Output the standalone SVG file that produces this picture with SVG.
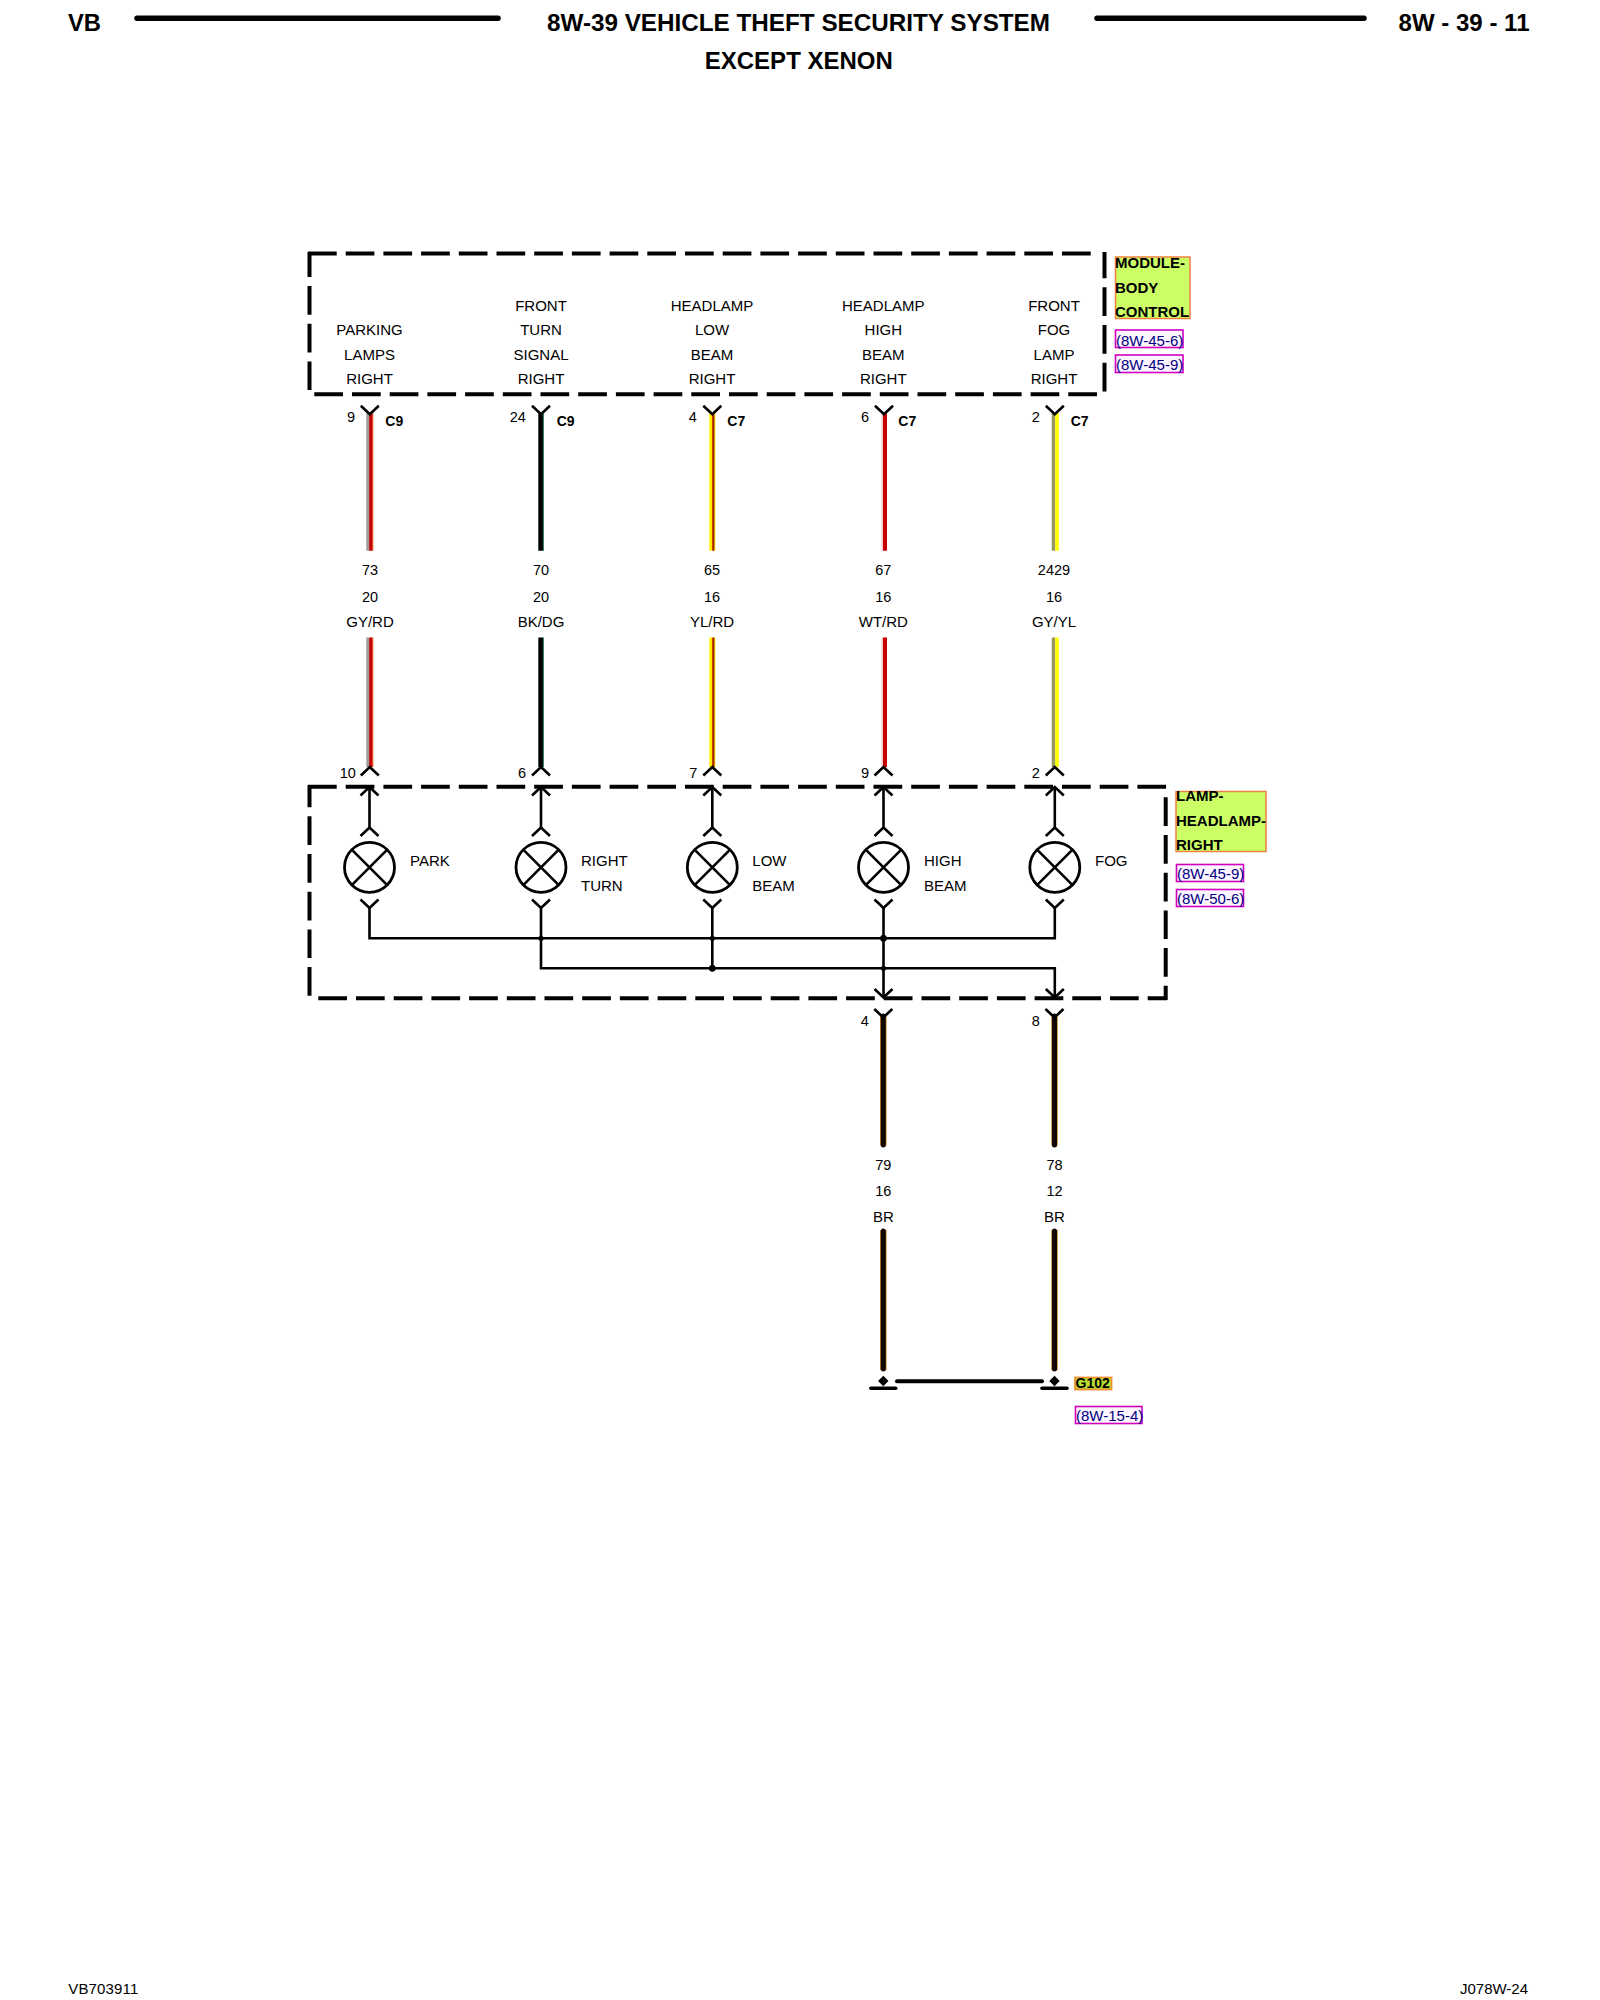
<svg xmlns="http://www.w3.org/2000/svg" width="1600" height="2000" viewBox="0 0 1600 2000">
<style>
text{font-family:"Liberation Sans",Arial,sans-serif;fill:#000;transform:translateY(-0.5px)}
.h{font-size:24px;font-weight:bold}
.t{font-size:15px;text-anchor:middle}
.l{font-size:15px}
.n{font-size:14.5px;text-anchor:middle}
.b{font-size:14px;font-weight:bold}
.m{font-size:15px;font-weight:bold}
.r{font-size:15px;fill:#000080}
.f{font-size:15px}
.d{fill:none;stroke:#000;stroke-width:4;stroke-dasharray:28.7 9}
.s{fill:none;stroke:#000;stroke-width:2.6}
.c{fill:none;stroke:#000;stroke-width:2.6}
.g{fill:#ccff66;stroke:#f08040;stroke-width:1.5}
.x{fill:#fdf5ff;stroke:#d000c0;stroke-width:1.6}
.w{fill:none;stroke-linecap:butt}
.th{stroke:#000;stroke-width:5.5;stroke-linecap:round}
</style>
<defs>
<g id="yc"><path class="s" d="M-9-8.5 0 0 9-8.5"/></g>
<g id="ac"><path class="s" d="M-9 8.5 0 0 9 8.5"/></g>
<g id="lamp"><circle r="25" fill="none" stroke="#000" stroke-width="2.8"/><path class="s" d="M-17-17 17 17M17-17-17 17"/></g>
<g id="gnd"><path d="M0-5.2 5.2 0 0 5.2-5.2 0Z" fill="#000"/><path d="M-12.5 7.2H12.5" stroke="#000" stroke-width="3.5" stroke-linecap="round"/></g>
</defs>
<rect width="1600" height="2000" fill="#fff"/>

<g id="header">
<text class="h" x="68" y="31" textLength="33" lengthAdjust="spacingAndGlyphs">VB</text>
<line class="th" x1="137" y1="18.3" x2="498" y2="18.3"/>
<text class="h" x="547" y="31" textLength="503" lengthAdjust="spacingAndGlyphs">8W-39 VEHICLE THEFT SECURITY SYSTEM</text>
<text class="h" x="798.8" y="69" text-anchor="middle">EXCEPT XENON</text>
<line class="th" x1="1097" y1="18.3" x2="1364" y2="18.3"/>
<text class="h" x="1398.5" y="31" textLength="131" lengthAdjust="spacing">8W - 39 - 11</text>
</g>

<g id="module-body-control">
<path class="d" d="M308 253.5H1092"/>
<path class="d" stroke-dashoffset="3.7" d="M309.5 252V390"/>
<path class="d" d="M314.3 394.3H1098"/>
<path class="d" stroke-dashoffset="2.4" d="M1104.5 252V392"/>
<g>
<text class="t" x="369.5" y="335.3">PARKING</text><text class="t" x="369.5" y="360">LAMPS</text><text class="t" x="369.5" y="384">RIGHT</text>
<text class="t" x="541" y="311">FRONT</text><text class="t" x="541" y="335.3">TURN</text><text class="t" x="541" y="360">SIGNAL</text><text class="t" x="541" y="384">RIGHT</text>
<text class="t" x="712" y="311">HEADLAMP</text><text class="t" x="712" y="335.3">LOW</text><text class="t" x="712" y="360">BEAM</text><text class="t" x="712" y="384">RIGHT</text>
<text class="t" x="883.3" y="311">HEADLAMP</text><text class="t" x="883.3" y="335.3">HIGH</text><text class="t" x="883.3" y="360">BEAM</text><text class="t" x="883.3" y="384">RIGHT</text>
<text class="t" x="1054" y="311">FRONT</text><text class="t" x="1054" y="335.3">FOG</text><text class="t" x="1054" y="360">LAMP</text><text class="t" x="1054" y="384">RIGHT</text>
</g>
<rect class="g" x="1115.5" y="257" width="74.5" height="61.5"/>
<text class="m" x="1115" y="268.3">MODULE-</text><text class="m" x="1115" y="293.3">BODY</text><text class="m" x="1115" y="317.3">CONTROL</text>
<rect class="x" x="1115.5" y="330" width="67.5" height="17.5"/><text class="r" x="1116" y="346">(8W-45-6)</text>
<rect class="x" x="1115.5" y="355" width="67.5" height="17.5"/><text class="r" x="1116" y="370.3">(8W-45-9)</text>
</g>

<g id="connectors">
<g id="wire-73" class="w">
<path stroke="#a09a9a" stroke-width="3.4" d="M368 413V550.7M368 637.5V767"/>
<path stroke="#f09030" stroke-width="1" d="M373 413V550.7M373 637.5V767"/>
<path stroke="#c40000" stroke-width="3.4" d="M370.9 413V550.7M370.9 637.5V767"/>
</g>
<g id="wire-70" class="w">
<path stroke="#006030" stroke-width="1.2" d="M543.2 413V550.7M543.2 637.5V767"/>
<path stroke="#000" stroke-width="4.6" d="M540.6 413V550.7M540.6 637.5V767"/>
</g>
<g id="wire-65" class="w">
<path stroke="#ffee00" stroke-width="6" d="M712.3 413V550.7M712.3 637.5V767"/>
<path stroke="#b02000" stroke-width="2.2" d="M713.3 413V550.7M713.3 637.5V767"/>
</g>
<g id="wire-67" class="w">
<path stroke="#f5c8c8" stroke-width="2" d="M882.5 413V550.7M882.5 637.5V767"/>
<path stroke="#c80000" stroke-width="4" d="M885 413V550.7M885 637.5V767"/>
</g>
<g id="wire-2429" class="w">
<path stroke="#999966" stroke-width="3.6" d="M1053.5 413V550.7M1053.5 637.5V767"/>
<path stroke="#ffff00" stroke-width="3.6" d="M1057 413V550.7M1057 637.5V767"/>
</g>
<g id="wire-79" class="w">
<path stroke="#c87a20" stroke-width="6.4" d="M883.3 1016V1145.5M883.3 1230V1370"/>
<path stroke="#100800" stroke-width="5" stroke-linecap="round" d="M883.3 1016V1145M883.3 1231V1369"/>
</g>
<g id="wire-78" class="w">
<path stroke="#c87a20" stroke-width="6.4" d="M1054.5 1016V1145.5M1054.5 1230V1370"/>
<path stroke="#100800" stroke-width="5" stroke-linecap="round" d="M1054.5 1016V1145M1054.5 1231V1369"/>
</g>
<g id="wire-labels">
<text class="n" x="370" y="575">73</text><text class="n" x="370" y="602">20</text><text class="t" x="370" y="627.7">GY/RD</text>
<text class="n" x="541" y="575">70</text><text class="n" x="541" y="602">20</text><text class="t" x="541" y="627.7">BK/DG</text>
<text class="n" x="712" y="575">65</text><text class="n" x="712" y="602">16</text><text class="t" x="712" y="627.7">YL/RD</text>
<text class="n" x="883.3" y="575">67</text><text class="n" x="883.3" y="602">16</text><text class="t" x="883.3" y="627.7">WT/RD</text>
<text class="n" x="1054" y="575">2429</text><text class="n" x="1054" y="602">16</text><text class="t" x="1054" y="627.7">GY/YL</text>
<text class="n" x="883.3" y="1170">79</text><text class="n" x="883.3" y="1196">16</text><text class="t" x="883.3" y="1222">BR</text>
<text class="n" x="1054.5" y="1170">78</text><text class="n" x="1054.5" y="1196">12</text><text class="t" x="1054.5" y="1222">BR</text>
</g>
<g id="pins-top">
<use href="#yc" x="369.8" y="414.3"/><use href="#yc" x="541" y="414.3"/><use href="#yc" x="712.3" y="414.3"/><use href="#yc" x="884" y="414.3"/><use href="#yc" x="1054.8" y="414.3"/>
<text class="n" x="351" y="422.3">9</text><text class="n" x="517.8" y="422.3">24</text><text class="n" x="692.7" y="422.3">4</text><text class="n" x="865" y="422.3">6</text><text class="n" x="1035.7" y="422.3">2</text>
<text class="b" x="385.3" y="426">C9</text><text class="b" x="556.7" y="426">C9</text><text class="b" x="727.3" y="426">C7</text><text class="b" x="898.3" y="426">C7</text><text class="b" x="1070.7" y="426">C7</text>
</g>
<g id="pins-lamp-top">
<use href="#ac" x="369.8" y="767"/><use href="#ac" x="541" y="767"/><use href="#ac" x="712.3" y="767"/><use href="#ac" x="883.5" y="767"/><use href="#ac" x="1054.8" y="767"/>
<text class="n" x="347.7" y="778.3">10</text><text class="n" x="522" y="778.3">6</text><text class="n" x="693.3" y="778.3">7</text><text class="n" x="865" y="778.3">9</text><text class="n" x="1035.7" y="778.3">2</text>
</g>
<g id="pins-bottom">
<use href="#yc" x="883.3" y="1017.5"/><use href="#yc" x="1054.5" y="1017.5"/>
<text class="n" x="864.7" y="1026">4</text><text class="n" x="1035.7" y="1026">8</text>
</g>
<g id="ground-link">
<line x1="897" y1="1381.3" x2="1042" y2="1381.3" stroke="#000" stroke-width="4" stroke-linecap="round"/>
</g>
</g>

<g id="lamp-headlamp-right">
<path class="d" d="M308 786.7H1167"/>
<path class="d" stroke-dashoffset="6.4" d="M309.5 785V998.3"/>
<path class="d" d="M318.3 998.3H1167"/>
<path class="d" d="M1165.7 797.3V1000"/>
<g id="internal-wiring">
<path class="c" d="M369.5 787V827M541 787V827M712.3 787V827M883.5 787V827M1054.8 787V827"/>
<path class="c" d="M369.5 908V938.3H1054.8V908M541 908V968.3H1054.8V996M712.3 908V968.3M883.5 908V996"/>
<use href="#ac" x="369.5" y="787"/><use href="#ac" x="541" y="787"/><use href="#ac" x="712.3" y="787"/><use href="#ac" x="883.5" y="787"/><use href="#ac" x="1054.8" y="787"/>
<use href="#ac" x="369.5" y="827.5"/><use href="#ac" x="541" y="827.5"/><use href="#ac" x="712.3" y="827.5"/><use href="#ac" x="883.5" y="827.5"/><use href="#ac" x="1054.8" y="827.5"/>
<use href="#yc" x="369.5" y="908"/><use href="#yc" x="541" y="908"/><use href="#yc" x="712.3" y="908"/><use href="#yc" x="883.5" y="908"/><use href="#yc" x="1054.8" y="908"/>
<use href="#yc" x="883.5" y="997.5"/><use href="#yc" x="1054.8" y="997.5"/>
<circle cx="541" cy="938.3" r="2.6"/><circle cx="712.3" cy="938.3" r="2.6"/><circle cx="883.5" cy="938.3" r="3.4"/>
<circle cx="712.3" cy="968.3" r="3.4"/><circle cx="883.5" cy="968.3" r="2.6"/>
</g>
<use id="lamp-park" href="#lamp" x="369.5" y="867.3"/><use id="lamp-turn" href="#lamp" x="541" y="867.3"/><use id="lamp-low" href="#lamp" x="712.3" y="867.3"/><use id="lamp-high" href="#lamp" x="883.5" y="867.3"/><use id="lamp-fog" href="#lamp" x="1054.8" y="867.3"/>
<text class="l" x="410" y="866">PARK</text>
<text class="l" x="581" y="866">RIGHT</text><text class="l" x="581" y="891">TURN</text>
<text class="l" x="752.3" y="866">LOW</text><text class="l" x="752.3" y="891">BEAM</text>
<text class="l" x="924" y="866">HIGH</text><text class="l" x="924" y="891">BEAM</text>
<text class="l" x="1095" y="866">FOG</text>
<rect class="g" x="1176" y="791.5" width="90" height="60"/>
<text class="m" x="1176" y="801.7">LAMP-</text><text class="m" x="1176" y="826.7">HEADLAMP-</text><text class="m" x="1176" y="850.7">RIGHT</text>
<rect class="x" x="1176.5" y="864.5" width="67" height="17"/><text class="r" x="1177" y="879">(8W-45-9)</text>
<rect class="x" x="1176.5" y="889.5" width="67" height="17"/><text class="r" x="1177" y="904">(8W-50-6)</text>
</g>

<g id="ground-g102">
<use href="#gnd" x="883.3" y="1381"/><use href="#gnd" x="1054.5" y="1381"/>
<rect x="1075" y="1377.5" width="36.5" height="12" fill="#b8e030" stroke="#f09030" stroke-width="1.8"/>
<text class="b" x="1075.5" y="1388">G102</text>
<rect class="x" x="1075.5" y="1406.5" width="66.5" height="17"/><text class="r" x="1076" y="1421">(8W-15-4)</text>
</g>

<g id="footer">
<text class="f" x="68.3" y="1994.3" textLength="70" lengthAdjust="spacing">VB703911</text>
<text class="f" x="1460" y="1994.3" textLength="68" lengthAdjust="spacing">J078W-24</text>
</g>
</svg>
